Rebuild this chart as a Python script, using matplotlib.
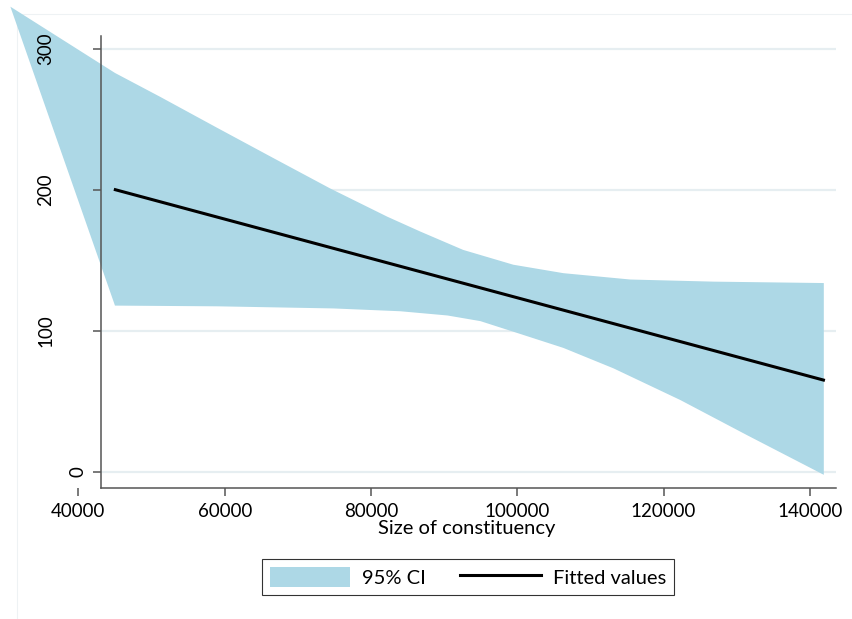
import matplotlib
matplotlib.use("Agg")
import matplotlib.pyplot as plt
from matplotlib.patches import Rectangle

plt.rcParams['font.family'] = ['Lato', 'DejaVu Sans']

# 95% CI band of the linear fit, upper and lower edges
ci_up_x = [45000, 51200, 59000, 66700, 74450, 82250, 86750, 92600, 99450,
           106300, 115450, 126800, 141900]
ci_up_y = [283, 266, 244, 222.5, 201, 181, 170.5, 157.5, 147, 141, 136.5, 135, 134]
ci_lo_x = [45000, 59000, 74850, 84000, 90450, 94950, 99450, 106300, 113150,
           122300, 131450, 141900]
ci_lo_y = [118, 117.5, 116, 114, 111, 107, 99.5, 88, 73.5, 51, 26, -2]
# first vertex of the band polygon, off to the left of the plot
ci_start = (30700, 330)

# fitted values
fit_x = [45050, 141850]
fit_y = [200.2, 65.2]

xticks = [40000, 60000, 80000, 100000, 120000, 140000]
yticks = [0, 100, 200, 300]

band_color = '#add8e6'
axis_color = '#555555'
grid_color = '#e6eef1'

fig = plt.figure(figsize=(8.52, 6.19), dpi=100)
fig.patch.set_facecolor('white')

# faint outer frame of the graph region, kept under everything
fig.add_artist(Rectangle((17 / 852, -0.05), 1.2, 1.05 - 14 / 619,
                         transform=fig.transFigure, fill=False,
                         edgecolor='#eef2f4', linewidth=0.8, zorder=-5))

ax = fig.add_axes([78.4 / 852, 1 - 488 / 619, 757.6 / 852, 452 / 619])
x_left = 43090
x_right = 143567
ax.set_xlim(40000, x_right)
ax.set_ylim(-11.35, 309.2)
ax.patch.set_alpha(0)

for s in ['top', 'right']:
    ax.spines[s].set_visible(False)
ax.spines['left'].set_position(('data', x_left))
ax.spines['bottom'].set_bounds(x_left, x_right)
for s in ['left', 'bottom']:
    ax.spines[s].set_color(axis_color)
    ax.spines[s].set_linewidth(1.1)

ax.hlines(yticks, x_left, x_right, color=grid_color, linewidth=1.6, zorder=0)

poly_x = [ci_start[0]] + ci_up_x + ci_lo_x[::-1]
poly_y = [ci_start[1]] + ci_up_y + ci_lo_y[::-1]
ax.fill(poly_x, poly_y, color=band_color, linewidth=0, clip_on=False,
        zorder=1, label='95% CI')
ax.plot(fit_x, fit_y, color='black', linewidth=2.2, zorder=3,
        label='Fitted values')

ax.set_xticks(xticks)
ax.set_xticklabels([str(t) for t in xticks])
ax.set_yticks(yticks)
ax.tick_params(axis='both', direction='out', length=5.8, width=1.1,
               color=axis_color, labelsize=13.5, pad=5)
ax.tick_params(axis='y', labelleft=False)

# rotated y labels; the 0 label sits nearer the axis
for t in yticks:
    dx = -15 if t == 0 else -47
    ax.annotate(str(t), xy=(x_left, t), xycoords='data',
                xytext=(dx, 0), textcoords='offset pixels',
                rotation=90, ha='right', va='center', fontsize=13.5,
                annotation_clip=False, zorder=4)

ax.set_xlabel('Size of constituency', fontsize=14.5)
ax.xaxis.set_label_coords(0.513, -0.071)

leg = fig.legend(*ax.get_legend_handles_labels(), loc='center',
                 bbox_to_anchor=(468 / 852, 1 - 576.7 / 619), ncol=2,
                 fontsize=14.5, frameon=True, fancybox=False,
                 handlelength=4.0, handleheight=1.15, handletextpad=0.6,
                 columnspacing=1.7, borderpad=0.4, borderaxespad=0)
leg.get_frame().set_edgecolor('black')
leg.get_frame().set_linewidth(0.8)

fig.savefig('out.png', dpi=100, facecolor='white')
